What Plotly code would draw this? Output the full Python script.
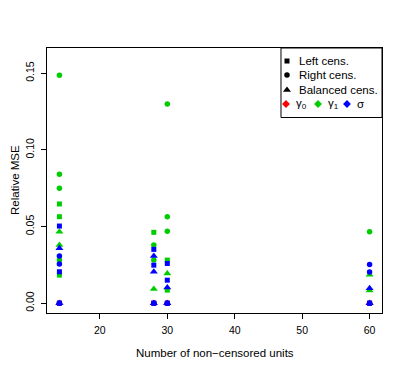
import plotly.graph_objects as go

# Number of non-censored units / relative MSE, one list pair per (censoring, parameter)
# Left censoring (squares)
left_gamma0_units = [14, 28, 30, 60]
left_gamma0_mse = [0.0, 0.0, 0.0, 0.0]
left_gamma1_units = [14, 14, 14, 28, 30, 30]
left_gamma1_mse = [0.0647, 0.0564, 0.0183, 0.0462, 0.0281, 0.0085]
left_sigma_units = [14, 14, 14, 28, 28, 28, 30, 30, 30, 60]
left_sigma_mse = [0.0503, 0.0205, 0.0, 0.0351, 0.0248, 0.0, 0.0259, 0.0150, 0.0, 0.0]

# Right censoring (circles)
right_gamma0_units = [14, 28, 30, 60]
right_gamma0_mse = [0.0, 0.0, 0.0, 0.0]
right_gamma1_units = [14, 14, 14, 14, 28, 28, 30, 30, 30, 60]
right_gamma1_mse = [0.1486, 0.0841, 0.0750, 0.0281, 0.0379, 0.0281, 0.1299, 0.0564, 0.0469, 0.0466]
right_sigma_units = [14, 14, 14, 28, 30, 60, 60, 60]
right_sigma_mse = [0.0307, 0.0255, 0.0, 0.0, 0.0, 0.0253, 0.0203, 0.0]

# Balanced censoring (triangles)
bal_gamma0_units = [14, 28, 30, 60]
bal_gamma0_mse = [0.0, 0.0, 0.0, 0.0]
bal_gamma1_units = [14, 14, 28, 30, 60, 60]
bal_gamma1_mse = [0.0466, 0.0379, 0.0092, 0.0194, 0.0186, 0.0082]
bal_sigma_units = [14, 14, 28, 28, 28, 30, 30, 60, 60]
bal_sigma_mse = [0.0358, 0.0, 0.0307, 0.0205, 0.0, 0.0103, 0.0, 0.0098, 0.0]

x_ticks = [20, 30, 40, 50, 60]
y_ticks = [0.0, 0.05, 0.10, 0.15]
y_tick_text = ["0.00", "0.05", "0.10", "0.15"]

RED = "#FF0000"
GREEN = "#00CD00"
BLUE = "#0000FF"
FONT = "Liberation Sans, Arial, sans-serif"

series = [
    (left_gamma0_units, left_gamma0_mse, "square", RED, 5),
    (right_gamma0_units, right_gamma0_mse, "circle", RED, 5.5),
    (bal_gamma0_units, bal_gamma0_mse, "triangle-up", RED, 7),
    (left_gamma1_units, left_gamma1_mse, "square", GREEN, 5),
    (right_gamma1_units, right_gamma1_mse, "circle", GREEN, 5.5),
    (bal_gamma1_units, bal_gamma1_mse, "triangle-up", GREEN, 7),
    (left_sigma_units, left_sigma_mse, "square", BLUE, 5),
    (right_sigma_units, right_sigma_mse, "circle", BLUE, 5.5),
    (bal_sigma_units, bal_sigma_mse, "triangle-up", BLUE, 7),
]

fig = go.Figure()
for xs, ys, symbol, color, size in series:
    fig.add_trace(go.Scatter(
        x=xs, y=ys, mode="markers",
        marker=dict(symbol=symbol, color=color, size=size, line=dict(width=0)),
        hoverinfo="x+y",
    ))

# legend symbols drawn on an overlay axis spanning the plot area
legend_marks = [
    (0.7164, 0.9509, "square", "black", 5),
    (0.7164, 0.8981, "circle", "black", 5.5),
    (0.7164, 0.8415, "triangle-up", "black", 7),
    (0.7134, 0.7887, "diamond", RED, 6),
    (0.8090, 0.7887, "diamond", GREEN, 6),
    (0.8955, 0.7887, "diamond", BLUE, 6),
]
for lx, ly, symbol, color, size in legend_marks:
    fig.add_trace(go.Scatter(
        x=[lx], y=[ly], mode="markers", xaxis="x2", yaxis="y2",
        marker=dict(symbol=symbol, color=color, size=size, line=dict(width=0)),
        hoverinfo="skip",
    ))

legend_text = [
    (0.7463, 0.9509, "Left cens."),
    (0.7463, 0.8981, "Right cens."),
    (0.7463, 0.8415, "Balanced cens."),
    (0.7373, 0.7887, "γ<sub>0</sub>"),
    (0.8328, 0.7887, "γ<sub>1</sub>"),
    (0.9194, 0.7887, "σ"),
]
annotations = [
    dict(text=t, x=tx, y=ty, xref="paper", yref="paper", xanchor="left",
         yanchor="middle", showarrow=False, font=dict(size=11.5))
    for tx, ty, t in legend_text
]
annotations += [
    dict(text="Number of non\u2212censored units", x=0.5, y=-0.151,
         xref="paper", yref="paper", xanchor="center", yanchor="middle",
         showarrow=False, font=dict(size=11.5)),
    dict(text="Relative MSE", x=-0.097, y=0.5, xref="paper", yref="paper",
         xanchor="center", yanchor="middle", textangle=-90,
         showarrow=False, font=dict(size=11.5)),
]

# the page body adds an 8px margin, so the figure starts 8px in and is 8px smaller
fig.update_layout(
    width=399,
    height=365,
    margin=dict(l=39, r=25, t=40, b=60),
    paper_bgcolor="white",
    plot_bgcolor="white",
    font=dict(family=FONT, size=10.5, color="black"),
    showlegend=False,
    xaxis=dict(
        range=[12.16, 61.84], tickvals=x_ticks, showgrid=False, zeroline=False,
        showline=True, mirror=True, linecolor="black", linewidth=1,
        ticks="outside", ticklen=5, tickwidth=1, tickcolor="black",
        tickfont=dict(size=10.5), ticklabelstandoff=2,
    ),
    yaxis=dict(
        range=[-0.0064, 0.1664], tickvals=y_ticks, ticktext=y_tick_text,
        tickangle=-90, showgrid=False, zeroline=False,
        showline=True, mirror=True, linecolor="black", linewidth=1,
        ticks="outside", ticklen=5, tickwidth=1, tickcolor="black",
        tickfont=dict(size=10.5), ticklabelstandoff=3,
    ),
    xaxis2=dict(range=[0, 1], overlaying="x", visible=False, fixedrange=True),
    yaxis2=dict(range=[0, 1], overlaying="y", visible=False, fixedrange=True),
    shapes=[dict(type="rect", xref="paper", yref="paper", x0=0.6985, x1=1.0,
                 y0=0.7377, y1=1.0, line=dict(color="black", width=1))],
    annotations=annotations,
)

fig.write_html("out.html")
